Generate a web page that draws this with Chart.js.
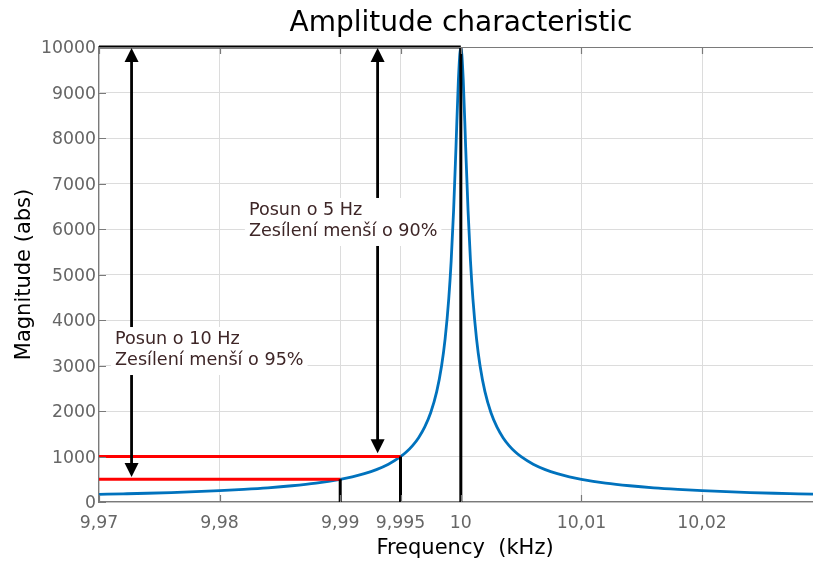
<!DOCTYPE html>
<html>
<head>
<meta charset="utf-8">
<script src="https://cdn.jsdelivr.net/npm/chart.js@4/dist/chart.umd.min.js"></script>
<style>
  html, body { margin: 0; padding: 0; background: #fff; }
  #wrap { width: 813px; height: 562px; }
</style>
</head>
<body>
<div id="wrap"><canvas id="amplituda"></canvas></div>
<script>
// frekvence (kHz) a odečtená amplituda (abs)
var frekvence = [
    9.970, 9.972, 9.974, 9.976, 9.978, 9.980, 9.982, 9.984, 9.986, 9.988,
    9.990, 9.991, 9.992, 9.993, 9.994, 9.995, 9.9955, 9.996, 9.9965, 9.997,
    9.9975, 9.998, 9.9984, 9.9987, 9.999, 9.9992, 9.9994, 9.9996, 9.9998, 10.000,
    10.0002, 10.0004, 10.0006, 10.0008, 10.001, 10.0013, 10.0016, 10.002, 10.0025, 10.003,
    10.0035, 10.004, 10.0045, 10.005, 10.006, 10.007, 10.008, 10.009, 10.010, 10.012,
    10.014, 10.016, 10.018, 10.020, 10.022, 10.024, 10.026, 10.028, 10.0292
];
var amplituda = [
    167, 179, 192, 208, 227, 250, 278, 312, 357, 416,
    499, 554, 623, 712, 830, 995, 1104, 1240, 1414, 1644,
    1961, 2425, 2983, 3590, 4472, 5300, 6402, 7809, 9285, 10000,
    9285, 7809, 6402, 5300, 4472, 3590, 2983, 2425, 1961, 1644,
    1414, 1240, 1104, 995, 830, 712, 623, 554, 499, 416,
    357, 312, 278, 250, 227, 208, 192, 179, 171
];

var xTicky = [9.97, 9.98, 9.99, 9.995, 10, 10.01, 10.02];
var xPopisky = ['9,97', '9,98', '9,99', '9,995', '10', '10,01', '10,02'];
var yTicky = [0, 1000, 2000, 3000, 4000, 5000, 6000, 7000, 8000, 9000, 10000];

// červené a černé pomocné čáry [x1, y1, x2, y2]
var cervenaPosun10 = [9.97, 500, 9.99, 500];
var cervenaPosun5 = [9.97, 1000, 9.995, 1000];
var cernaPosun10 = [9.99, 0, 9.99, 500];
var cernaPosun5 = [9.995, 0, 9.995, 1000];
var cernaStred = [10, 0, 10, 10000];
var cernaVrchol = [9.97, 10000, 10, 10000];

// šipky [x, y horní, y dolní]
var sipkaPosun10 = [9.9727, 10000, 550];
var sipkaPosun5 = [9.9931, 10000, 1070];

var popisky = [
    { x: 9.97133, y: 3582, radky: ['Posun o 10 Hz', 'Zesílení menší o 95%'] },
    { x: 9.98243, y: 6418, radky: ['Posun o 5 Hz', 'Zesílení menší o 90%'] }
];

var FONT = "'DejaVu Sans', sans-serif";

function usecka(u, barva) {
    return {
        data: [{ x: u[0], y: u[1] }, { x: u[2], y: u[3] }],
        borderColor: barva,
        borderWidth: 3,
        pointRadius: 0,
        clip: false,
        tension: 0
    };
}

var krivka = {
    data: frekvence.map(function(f, i) { return { x: f, y: amplituda[i] }; }),
    borderColor: '#0072BD',
    borderWidth: 2.8,
    pointRadius: 0,
    cubicInterpolationMode: 'monotone'
};

// kreslí titulek, popis osy x, horní rámeček, vnitřní značky, šipky a popisky
var doplnky = {
    id: 'doplnky',
    afterDatasetsDraw: function(chart) {
        var ctx = chart.ctx;
        var a = chart.chartArea;
        var sx = chart.scales.x;
        var sy = chart.scales.y;
        ctx.save();

        // horní rámeček
        ctx.strokeStyle = '#7a7a7a';
        ctx.lineWidth = 1.2;
        ctx.beginPath();
        ctx.moveTo(a.left, a.top + 0.5);
        ctx.lineTo(a.right, a.top + 0.5);
        ctx.stroke();

        // vnitřní značky
        ctx.beginPath();
        xTicky.forEach(function(v) {
            var px = Math.round(sx.getPixelForValue(v)) + 0.5;
            ctx.moveTo(px, a.bottom); ctx.lineTo(px, a.bottom - 7);
            ctx.moveTo(px, a.top); ctx.lineTo(px, a.top + 7);
        });
        yTicky.forEach(function(v) {
            var py = Math.round(sy.getPixelForValue(v)) + 0.5;
            ctx.moveTo(a.left, py); ctx.lineTo(a.left + 7, py);
        });
        ctx.stroke();

        // šipky
        [sipkaPosun10, sipkaPosun5].forEach(function(s) {
            var px = sx.getPixelForValue(s[0]);
            var top = sy.getPixelForValue(s[1]);
            var bot = sy.getPixelForValue(s[2]);
            ctx.strokeStyle = '#000';
            ctx.fillStyle = '#000';
            ctx.lineWidth = 2.8;
            ctx.beginPath();
            ctx.moveTo(px, top + 10);
            ctx.lineTo(px, bot - 10);
            ctx.stroke();
            ctx.beginPath();
            ctx.moveTo(px, top + 1); ctx.lineTo(px - 7, top + 15); ctx.lineTo(px + 7, top + 15);
            ctx.closePath();
            ctx.fill();
            ctx.beginPath();
            ctx.moveTo(px, bot); ctx.lineTo(px - 7, bot - 14); ctx.lineTo(px + 7, bot - 14);
            ctx.closePath();
            ctx.fill();
        });

        // popisky s bílým pozadím
        ctx.font = '17.6px ' + FONT;
        ctx.textBaseline = 'middle';
        ctx.textAlign = 'left';
        popisky.forEach(function(p) {
            var px = sx.getPixelForValue(p.x);
            var py = sy.getPixelForValue(p.y);
            var w = 0;
            p.radky.forEach(function(r) { w = Math.max(w, ctx.measureText(r).width); });
            ctx.fillStyle = '#fff';
            ctx.fillRect(px - 4, py - 12, w + 8, 48);
            ctx.fillStyle = '#3e2627';
            p.radky.forEach(function(r, i) {
                ctx.fillText(r, px, py + i * 21);
            });
        });

        // titulek
        ctx.fillStyle = '#000';
        ctx.font = '28px ' + FONT;
        ctx.textAlign = 'center';
        ctx.textBaseline = 'alphabetic';
        ctx.fillText('Amplitude characteristic', (a.left + a.right) / 2 + 5, 31);

        // popis osy x
        ctx.font = '21px ' + FONT;
        ctx.textBaseline = 'middle';
        ctx.fillText('Frequency  (kHz)', (a.left + a.right) / 2 + 9, 549);
        ctx.restore();
    }
};

var ctxAmplituda = document.getElementById('amplituda').getContext('2d');

var grafAmplituda = new Chart(ctxAmplituda, {
    type: 'line',
    data: {
        datasets: [
            usecka(cernaStred, '#000'),
            usecka(cernaVrchol, '#000'),
            usecka(cernaPosun10, '#000'),
            usecka(cernaPosun5, '#000'),
            usecka(cervenaPosun10, '#ff0000'),
            usecka(cervenaPosun5, '#ff0000'),
            krivka
        ]
    },
    options: {
        responsive: true,
        maintainAspectRatio: false,
        animation: false,
        layout: {
            padding: { top: 47, right: 0, left: 0, bottom: 0 }
        },
        scales: {
            x: {
                type: 'linear',
                min: 9.97,
                max: 10.0292,
                afterBuildTicks: function(scale) {
                    scale.ticks = xTicky.map(function(v) { return { value: v }; });
                },
                afterFit: function(scale) { scale.height = 60; },
                ticks: {
                    autoSkip: false,
                    maxRotation: 0,
                    color: '#666',
                    padding: 11,
                    font: { family: FONT, size: 17.3 },
                    callback: function(v) {
                        var i = xTicky.indexOf(v);
                        return i >= 0 ? xPopisky[i] : '';
                    }
                },
                grid: { color: '#dcdcdc', drawTicks: false },
                border: { color: '#7a7a7a', width: 1.2 },
                title: { display: false }
            },
            y: {
                min: 0,
                max: 10000,
                afterBuildTicks: function(scale) {
                    scale.ticks = yTicky.map(function(v) { return { value: v }; });
                },
                afterFit: function(scale) { scale.width = 99; },
                ticks: {
                    color: '#666',
                    padding: 3,
                    labelOffset: 2,
                    font: { family: FONT, size: 17.3 },
                    callback: function(v) { return String(v); }
                },
                grid: { color: '#dcdcdc', drawTicks: false },
                border: { color: '#7a7a7a', width: 1.2 },
                title: {
                    display: true,
                    text: 'Magnitude (abs)',
                    color: '#000',
                    font: { family: FONT, size: 21 },
                    padding: { top: 12, bottom: 0 }
                }
            }
        },
        plugins: {
            legend: { display: false },
            tooltip: { enabled: false }
        }
    },
    plugins: [doplnky]
});
</script>
</body>
</html>
